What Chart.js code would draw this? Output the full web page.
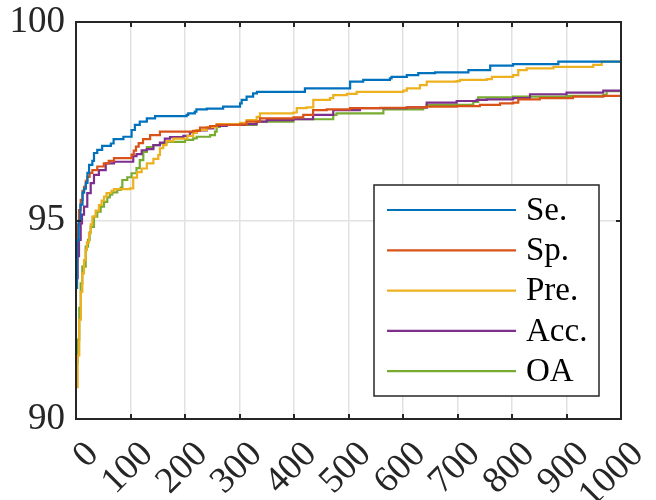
<!DOCTYPE html>
<html>
<head>
<meta charset="utf-8">
<script src="https://cdn.jsdelivr.net/npm/chart.js@4.4.1/dist/chart.umd.min.js"></script>
<style>
  html, body { margin: 0; padding: 0; background: #ffffff; }
  #wrap { width: 656px; height: 500px; }
</style>
</head>
<body>
<div id="wrap"><canvas id="c" width="656" height="500"></canvas></div>
<script>
// ---- data ----
const seriesNames = ['Se.', 'Sp.', 'Pre.', 'Acc.', 'OA'];
const xTicks = [0, 100, 200, 300, 400, 500, 600, 700, 800, 900, 1000];
const yTicks = [90, 95, 100];

const seX = [0, 2, 5, 8, 12, 15, 18, 21, 24, 30, 33, 39, 48, 64, 69, 87, 102, 108, 117, 130, 145, 203, 206, 218, 221, 240, 270, 301, 304, 313, 325, 332, 420, 503, 527, 576, 579, 607, 628, 659, 720, 760, 802, 885, 1000];
const seY = [93.3, 94.5, 95.0, 95.4, 95.7, 95.8, 95.95, 96.2, 96.4, 96.5, 96.7, 96.78, 96.88, 96.94, 97.05, 97.11, 97.28, 97.41, 97.49, 97.57, 97.63, 97.66, 97.70, 97.74, 97.80, 97.82, 97.87, 97.95, 98.04, 98.12, 98.20, 98.24, 98.33, 98.50, 98.54, 98.58, 98.62, 98.66, 98.71, 98.73, 98.79, 98.90, 98.94, 99.00, 99.00];

const spX = [0, 3, 5.5, 8.6, 12, 14.7, 18, 20.7, 25, 30, 39, 51, 60, 69.7, 97, 102, 106, 110, 115, 123, 136, 154, 215, 227.5, 246, 258, 301, 313, 337.6, 399, 417, 435, 460, 503, 558, 607, 643, 698.5, 741, 778, 802, 811.5, 851, 912, 967.5, 1000];
const spY = [94.5, 94.9, 95.26, 95.52, 95.75, 95.85, 96.0, 96.1, 96.2, 96.27, 96.36, 96.44, 96.5, 96.57, 96.57, 96.66, 96.76, 96.86, 96.95, 97.05, 97.15, 97.24, 97.26, 97.34, 97.38, 97.41, 97.42, 97.49, 97.57, 97.6, 97.66, 97.78, 97.8, 97.83, 97.84, 97.85, 97.87, 97.88, 97.91, 97.95, 97.97, 98.05, 98.08, 98.12, 98.14, 98.16];

const preX = [0, 3, 6, 9, 11.6, 14.7, 17.8, 20, 23.9, 27, 30, 36, 42, 47, 51.4, 56, 65, 69.7, 99, 105, 112, 120.5, 130, 142, 151, 154, 160, 166, 178.5, 204.5, 215, 221.5, 240, 258, 301, 313, 331.5, 337.6, 399, 405, 423, 435.4, 466, 472, 497, 515, 600.5, 607, 631, 643.5, 698.5, 704.6, 753.6, 763, 802, 811.5, 827, 876, 949, 964.6, 1000];
const preY = [90.8, 91.6, 92.5, 93.2, 93.67, 94.0, 94.26, 94.45, 94.68, 94.9, 95.1, 95.25, 95.39, 95.5, 95.6, 95.69, 95.75, 95.79, 95.81, 96.08, 96.22, 96.31, 96.44, 96.55, 96.65, 96.82, 96.9, 97.0, 97.06, 97.13, 97.21, 97.28, 97.35, 97.43, 97.46, 97.53, 97.61, 97.7, 97.72, 97.83, 97.85, 98.04, 98.08, 98.16, 98.19, 98.24, 98.27, 98.33, 98.41, 98.5, 98.51, 98.54, 98.56, 98.62, 98.66, 98.79, 98.83, 98.87, 98.92, 99.0, 99.0];

const accX = [0, 3, 5.5, 8.6, 11, 14.7, 20.7, 27, 33, 42, 54.5, 69.7, 99, 105, 111, 120.5, 130, 142, 154, 163, 172.5, 197, 209, 221.5, 240, 252, 276.5, 310, 331.5, 350, 399, 435, 472, 521, 607, 643.5, 698.5, 735, 753.6, 802, 833, 900, 967.5, 1000];
const accY = [93.55, 94.1, 94.51, 94.93, 95.15, 95.35, 95.69, 95.94, 96.15, 96.27, 96.44, 96.48, 96.48, 96.62, 96.67, 96.77, 96.8, 96.9, 96.96, 97.06, 97.1, 97.13, 97.22, 97.27, 97.32, 97.38, 97.41, 97.43, 97.49, 97.53, 97.55, 97.66, 97.78, 97.83, 97.85, 97.97, 98.01, 98.04, 98.05, 98.08, 98.18, 98.22, 98.27, 98.27];

const oaX = [0, 3, 6, 8.6, 11.6, 17.8, 22, 25, 27, 33, 39, 45.3, 51.4, 57.4, 62, 66.6, 75.8, 82, 85, 94, 102, 111, 117, 123.5, 130, 142, 154, 166, 197, 200, 215, 221.5, 246, 255, 258, 264, 301, 331, 399, 472, 478, 545.5, 564, 637, 643.5, 729, 738, 802, 900, 967.5, 973.6, 1000];
const oaY = [91.4, 92.0, 92.8, 93.42, 93.84, 94.34, 94.51, 94.7, 94.84, 95.1, 95.22, 95.35, 95.47, 95.58, 95.65, 95.71, 95.77, 95.83, 96.02, 96.09, 96.19, 96.32, 96.52, 96.73, 96.85, 96.9, 96.94, 96.98, 96.98, 97.03, 97.07, 97.11, 97.15, 97.24, 97.36, 97.41, 97.41, 97.49, 97.55, 97.66, 97.7, 97.7, 97.8, 97.84, 97.91, 97.99, 98.1, 98.12, 98.14, 98.16, 98.26, 98.26];

const seriesX = [seX, spX, preX, accX, oaX];
const seriesY = [seY, spY, preY, accY, oaY];
const seriesColors = ['#0072BD', '#D95319', '#EDB120', '#7E2F8E', '#77AC30'];

// ---- chart ----
const FONT = "'Liberation Serif', 'Times New Roman', serif";
const AXIS = '#262626';

const datasets = seriesNames.map((name, i) => ({
  label: name,
  data: seriesX[i].map((xv, j) => ({ x: xv, y: seriesY[i][j] })),
  borderColor: seriesColors[i],
  backgroundColor: seriesColors[i],
  borderWidth: 2.2,
  pointRadius: 0,
  stepped: 'before',
  fill: false
}));

const framePlugin = {
  id: 'frame',
  afterDatasetsDraw(chart) {
    const { ctx, chartArea: { left, right, top, bottom }, scales: { x, y } } = chart;
    ctx.save();
    ctx.strokeStyle = AXIS;
    ctx.lineWidth = 2;
    const tl = 5;
    ctx.beginPath();
    x.ticks.forEach(t => {
      const px = Math.round(x.getPixelForValue(t.value));
      ctx.moveTo(px, bottom); ctx.lineTo(px, bottom - tl);
      ctx.moveTo(px, top); ctx.lineTo(px, top + tl);
    });
    y.ticks.forEach(t => {
      const py = Math.round(y.getPixelForValue(t.value));
      ctx.moveTo(left, py); ctx.lineTo(left + tl, py);
      ctx.moveTo(right, py); ctx.lineTo(right - tl, py);
    });
    ctx.stroke();
    ctx.strokeRect(left, top, right - left, bottom - top);

    // legend box (MATLAB style, lower right inside axes)
    const bx = right - 247, by = bottom - 234, bw = 225, bh = 211;
    ctx.fillStyle = '#ffffff';
    ctx.fillRect(bx, by, bw, bh);
    ctx.lineWidth = 1.5;
    ctx.strokeStyle = AXIS;
    ctx.strokeRect(bx, by, bw, bh);
    ctx.font = "33px " + FONT;
    ctx.textBaseline = 'middle';
    ctx.textAlign = 'left';
    chart.data.datasets.forEach((ds, i) => {
      const ry = by + 25 + i * 40.3;
      ctx.strokeStyle = ds.borderColor;
      ctx.lineWidth = 2.2;
      ctx.beginPath();
      ctx.moveTo(bx + 13, ry);
      ctx.lineTo(bx + 142, ry);
      ctx.stroke();
      ctx.fillStyle = '#000000';
      ctx.fillText(ds.label, bx + 152, ry + 1);
    });
    ctx.restore();
  }
};

new Chart(document.getElementById('c'), {
  type: 'line',
  data: { datasets },
  options: {
    responsive: false,
    animation: false,
    events: [],
    layout: { padding: { top: 22, right: 35, left: 0, bottom: 0 } },
    plugins: { legend: { display: false }, tooltip: { enabled: false } },
    scales: {
      x: {
        type: 'linear',
        min: 0, max: 1000,
        afterBuildTicks(scale) { scale.ticks = xTicks.map(v => ({ value: v })); },
        afterFit(scale) { scale.height = 81; scale.paddingLeft = 0; scale.paddingRight = 0; },
        border: { display: false },
        grid: { color: '#e2e2e2', lineWidth: 1.5, drawTicks: false },
        ticks: {
          autoSkip: false, maxRotation: 45, minRotation: 45,
          padding: 14, labelOffset: 17,
          callback: v => String(v),
          color: AXIS,
          font: { family: FONT, size: 37 }
        }
      },
      y: {
        type: 'linear',
        min: 90, max: 100,
        afterBuildTicks(scale) { scale.ticks = yTicks.map(v => ({ value: v })); },
        afterFit(scale) { scale.width = 76; scale.paddingTop = 0; scale.paddingBottom = 0; },
        border: { display: false },
        grid: { color: '#e2e2e2', lineWidth: 1.5, drawTicks: false },
        ticks: {
          padding: 11,
          callback: v => String(v),
          color: AXIS,
          font: { family: FONT, size: 37 }
        }
      }
    }
  },
  plugins: [framePlugin]
});
</script>
</body>
</html>
